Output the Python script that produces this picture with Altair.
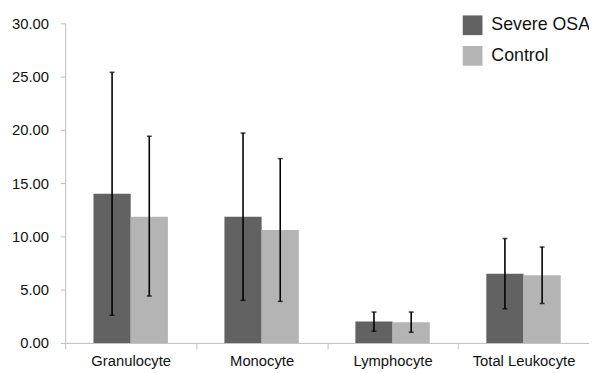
import altair as alt
import pandas as pd

categories = ["Granulocyte", "Monocyte", "Lymphocyte", "Total Leukocyte"]
groups = ["Severe OSA", "Control"]
severe_mean = [14.0, 11.85, 2.0, 6.5]
severe_low = [2.6, 4.0, 1.1, 3.2]
severe_high = [25.4, 19.7, 2.9, 9.8]
control_mean = [11.85, 10.6, 1.95, 6.35]
control_low = [4.4, 3.9, 1.0, 3.7]
control_high = [19.4, 17.3, 2.9, 9.0]

rows = []
for i, c in enumerate(categories):
    rows.append({"cat": c, "group": groups[0], "mean": severe_mean[i], "low": severe_low[i], "high": severe_high[i]})
    rows.append({"cat": c, "group": groups[1], "mean": control_mean[i], "low": control_low[i], "high": control_high[i]})
df = pd.DataFrame(rows)

font = "Liberation Sans"

x = alt.X("cat:N", sort=categories, title=None,
          scale=alt.Scale(paddingInner=0, paddingOuter=0),
          axis=alt.Axis(labelAngle=0, tickBand="extent", domainColor="#bdbdbd",
                        tickColor="#bdbdbd", tickSize=6, labelFontSize=15,
                        labelFont=font, labelColor="#111111", labelPadding=5))
xo = alt.XOffset("group:N", sort=groups,
                 scale=alt.Scale(paddingOuter=0.76, paddingInner=0))
y = alt.Y("mean:Q", title=None,
          scale=alt.Scale(domain=[0, 30], nice=False),
          axis=alt.Axis(values=[0, 5, 10, 15, 20, 25, 30], format=".2f", grid=False,
                        domainColor="#bdbdbd", tickColor="#bdbdbd", tickSize=5,
                        labelFontSize=15, labelFont=font, labelColor="#111111",
                        labelPadding=12))
color = alt.Color("group:N", sort=groups, title=None,
                  scale=alt.Scale(domain=groups, range=["#626262", "#b4b4b4"]),
                  legend=alt.Legend(orient="none", legendX=403, legendY=-8,
                                    symbolType="square", symbolSize=400,
                                    symbolStrokeWidth=0, symbolOpacity=1,
                                    labelFontSize=18, labelFont=font,
                                    labelColor="#111111", rowPadding=11,
                                    labelOffset=9, padding=0))

bars = alt.Chart(df).mark_bar(opacity=1).encode(x=x, xOffset=xo, y=y, color=color)

rule = alt.Chart(df).mark_rule(color="black", strokeWidth=1.6).encode(
    x=alt.X("cat:N", sort=categories), xOffset=xo,
    y=alt.Y("low:Q"), y2="high:Q")
cap_lo = alt.Chart(df).mark_tick(color="black", thickness=1.6, size=5, orient="horizontal").encode(
    x=alt.X("cat:N", sort=categories), xOffset=xo, y=alt.Y("low:Q"))
cap_hi = alt.Chart(df).mark_tick(color="black", thickness=1.6, size=5, orient="horizontal").encode(
    x=alt.X("cat:N", sort=categories), xOffset=xo, y=alt.Y("high:Q"))

chart = alt.layer(bars, rule, cap_lo, cap_hi).properties(
    width=531, height=324,
    autosize=alt.AutoSizeParams(type="none"),
    padding={"left": 58, "top": 13, "right": 0, "bottom": 30},
).configure_view(stroke=None)

chart.save("out.html", embed_options={"renderer": "svg", "actions": False})
